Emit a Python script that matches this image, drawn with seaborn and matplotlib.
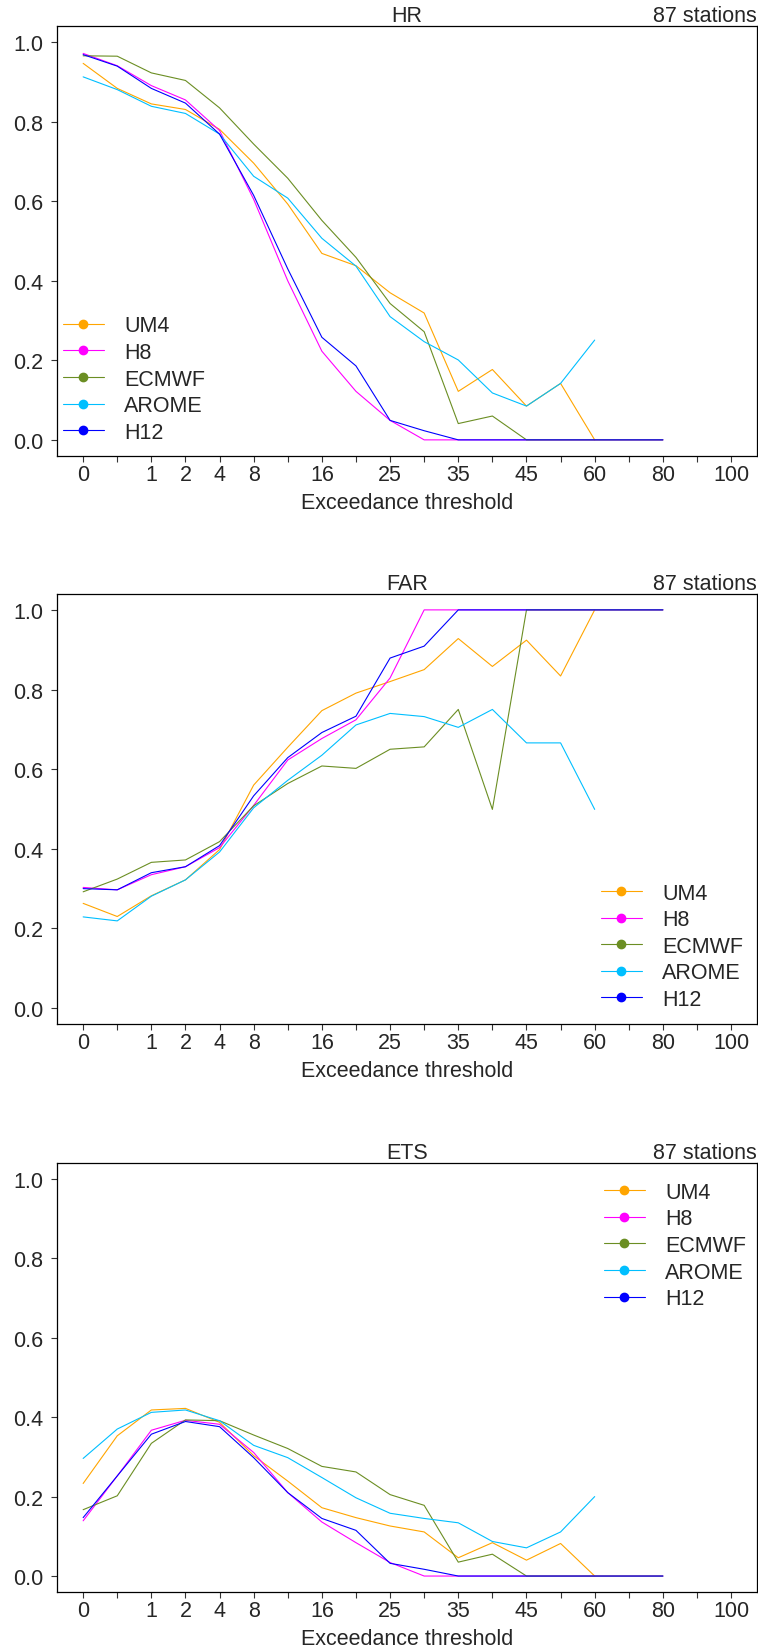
import numpy as np
import seaborn as sns
import matplotlib.pyplot as plt
import pandas as pd
from matplotlib.lines import Line2D

# exceedance thresholds (one x position per threshold)
thresholds = [0, 0.5, 1, 2, 4, 8, 12, 16, 20, 25, 30, 35, 40, 45, 50, 60, 70, 80, 90, 100]
tick_labels = ["0", "", "1", "2", "4", "8", "", "16", "", "25", "",
               "35", "", "45", "", "60", "", "80", "", "100"]

models = ["UM4", "H8", "ECMWF", "AROME", "H12"]
colors = ["#FFA500", "#FF00FF", "#6B8E23", "#00BFFF", "#0000FF"]
n_stations = 87

hr_um4 = [0.947, 0.884, 0.845, 0.831, 0.781, 0.696, 0.593, 0.469, 0.438, 0.370,
          0.319, 0.122, 0.177, 0.085, 0.142, 0.0]
hr_h8 = [0.972, 0.941, 0.891, 0.855, 0.778, 0.605, 0.400, 0.223, 0.122, 0.049,
         0.0, 0.0, 0.0, 0.0, 0.0, 0.0, 0.0, 0.0]
hr_ecmwf = [0.966, 0.965, 0.923, 0.904, 0.835, 0.744, 0.658, 0.552, 0.459, 0.343,
            0.272, 0.041, 0.060, 0.0, 0.0, 0.0, 0.0, 0.0]
hr_arome = [0.913, 0.881, 0.839, 0.821, 0.769, 0.663, 0.608, 0.507, 0.437, 0.310,
            0.247, 0.201, 0.118, 0.085, 0.142, 0.251]
hr_h12 = [0.969, 0.940, 0.884, 0.847, 0.769, 0.615, 0.430, 0.258, 0.186, 0.049,
          0.023, 0.0, 0.0, 0.0, 0.0, 0.0, 0.0, 0.0]

far_um4 = [0.263, 0.230, 0.282, 0.322, 0.398, 0.560, 0.655, 0.747, 0.791, 0.820,
           0.850, 0.928, 0.858, 0.924, 0.834, 1.0]
far_h8 = [0.303, 0.297, 0.335, 0.355, 0.403, 0.509, 0.623, 0.677, 0.724, 0.829,
          1.0, 1.0, 1.0, 1.0, 1.0, 1.0, 1.0, 1.0]
far_ecmwf = [0.292, 0.324, 0.366, 0.372, 0.418, 0.508, 0.564, 0.608, 0.602, 0.650,
             0.656, 0.750, 0.499, 1.0, 1.0, 1.0, 1.0, 1.0]
far_arome = [0.229, 0.219, 0.281, 0.322, 0.392, 0.503, 0.572, 0.635, 0.711, 0.740,
             0.732, 0.705, 0.750, 0.666, 0.666, 0.499]
far_h12 = [0.300, 0.297, 0.340, 0.355, 0.408, 0.533, 0.629, 0.692, 0.733, 0.879,
           0.909, 1.0, 1.0, 1.0, 1.0, 1.0, 1.0, 1.0]

ets_um4 = [0.233, 0.353, 0.418, 0.422, 0.387, 0.303, 0.239, 0.172, 0.147, 0.126,
           0.111, 0.046, 0.084, 0.040, 0.082, 0.0]
ets_h8 = [0.139, 0.252, 0.367, 0.392, 0.382, 0.311, 0.210, 0.136, 0.084, 0.034,
          0.0, 0.0, 0.0, 0.0, 0.0, 0.0, 0.0, 0.0]
ets_ecmwf = [0.167, 0.202, 0.334, 0.393, 0.391, 0.355, 0.321, 0.276, 0.262, 0.205,
             0.178, 0.035, 0.055, 0.0, 0.0, 0.0, 0.0, 0.0]
ets_arome = [0.296, 0.370, 0.412, 0.418, 0.391, 0.329, 0.298, 0.248, 0.197, 0.158,
             0.145, 0.134, 0.087, 0.071, 0.111, 0.200]
ets_h12 = [0.147, 0.252, 0.357, 0.389, 0.376, 0.298, 0.210, 0.145, 0.115, 0.032,
           0.017, 0.0, 0.0, 0.0, 0.0, 0.0, 0.0, 0.0]

scores = {
    "HR": [hr_um4, hr_h8, hr_ecmwf, hr_arome, hr_h12],
    "FAR": [far_um4, far_h8, far_ecmwf, far_arome, far_h12],
    "ETS": [ets_um4, ets_h8, ets_ecmwf, ets_arome, ets_h12],
}


def to_long(series):
    rows = []
    for model, vals in zip(models, series):
        for i, v in enumerate(vals):
            rows.append({"model": model, "pos": i, "value": v})
    return pd.DataFrame(rows)


sns.set_theme(style="ticks")
plt.rcParams["font.family"] = ["Liberation Sans", "DejaVu Sans"]
fs = 15.5
plt.rcParams["font.size"] = fs

pal = dict(zip(models, colors))

fig = plt.figure(figsize=(7.58, 16.49), dpi=100)
# axes boxes (left, bottom, width, height) in figure fractions
boxes = [(0.0755, 0.7230, 0.9232, 0.2604),
         (0.0755, 0.3784, 0.9232, 0.2608),
         (0.0755, 0.0340, 0.9232, 0.2602)]
legend_anchor = {"HR": (0.008, 0.327), "FAR": (0.777, 0.329), "ETS": (0.781, 0.956)}

for (name, series), box in zip(scores.items(), boxes):
    ax = fig.add_axes(box)
    df = to_long(series)
    sns.lineplot(data=df, x="pos", y="value", hue="model", hue_order=models,
                 palette=pal, linewidth=0.8, legend=False, ax=ax)

    n = len(thresholds)
    ax.set_xlim(-0.04 * (n - 1), (n - 1) * 1.04)
    ax.set_ylim(-0.04, 1.04)
    ax.set_xticks(range(n))
    ax.set_xticklabels(tick_labels)
    ax.set_yticks([0, 0.2, 0.4, 0.6, 0.8, 1.0])
    ax.set_yticklabels(["0.0", "0.2", "0.4", "0.6", "0.8", "1.0"])
    ax.tick_params(axis="x", direction="out", length=4.3, width=0.8, pad=1.5,
                   labelsize=fs, color="#333333")
    ax.tick_params(axis="y", direction="out", length=4.3, width=0.8, pad=5.5,
                   labelsize=fs, color="#333333")
    for sp in ax.spines.values():
        sp.set_color("black")
        sp.set_linewidth(0.9)
    ax.set_xlabel("Exceedance threshold", fontsize=fs, labelpad=5)
    ax.set_ylabel("")
    ax.set_title(name, loc="center", fontsize=fs, pad=0.8)
    ax.set_title(f"{n_stations} stations", loc="right", fontsize=fs, pad=0.8)

    handles = [Line2D([], [], color=c, marker="o", markersize=6, linewidth=0.8)
               for c in colors]
    ax.legend(handles, models, loc="upper left", bbox_to_anchor=legend_anchor[name],
              frameon=False, fontsize=fs, borderpad=0, borderaxespad=0,
              handlelength=1.9, handletextpad=0.95, labelspacing=0.26)

fig.savefig("out.png", dpi=100)
